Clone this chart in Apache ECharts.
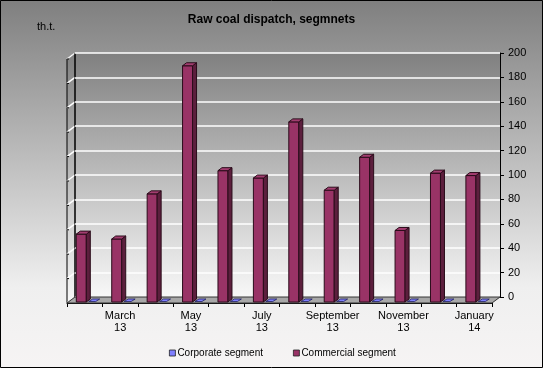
<!DOCTYPE html>
<html><head><meta charset="utf-8">
<script src="https://cdn.jsdelivr.net/npm/echarts@6/dist/echarts.min.js"></script>
<style>html,body{margin:0;padding:0;}#c{width:543px;height:368px;}</style>
</head><body><div id="c"></div>
<script>
const categories = ['February 13','March 13','April 13','May 13','June 13','July 13','August 13','September 13','October 13','November 13','December 13','January 14'];
const corporate = [0,0,0,0,0,0,0,0,0,0,0,0];
const commercial = [54,50,87,192,106,100,146,90,117,57,104,102];
const yTicks = [0,20,40,60,80,100,120,140,160,180,200];

const FONT = 'Liberation Sans, Arial, sans-serif';
const DX = -8, DY = 6;
const chart = echarts.init(document.getElementById('c'));

function barItem(params, api) {
  const idx = api.value(0), v = api.value(1);
  const top = api.coord([idx, v]);
  const base = api.coord([idx, 0]);
  const yb = base[1] - 1, yt = top[1] - 3;
  const x0 = top[0] - 8.4, x1 = top[0] + 1.6, sx = 4, sy = 3;
  const edge = '#2a0c1a';
  return {type:'group', children:[
    {type:'rect', shape:{x:x0, y:yt, width:x1-x0, height:yb-yt}, style:{fill:'#993366', stroke:edge, lineWidth:1}},
    {type:'polygon', shape:{points:[[x1,yt],[x1+sx,yt-sy],[x1+sx,yb-sy],[x1,yb]]}, style:{fill:'#5c1f3d', stroke:edge, lineWidth:1}},
    {type:'polygon', shape:{points:[[x0,yt],[x1,yt],[x1+sx,yt-sy],[x0+sx,yt-sy]]}, style:{fill:'#a33d70', stroke:edge, lineWidth:1}}
  ]};
}
function flatItem(params, api) {
  const idx = api.value(0);
  const base = api.coord([idx, 0]);
  const y0 = base[1] - 1.5;
  const x = base[0];
  return {type:'polygon', shape:{points:[[x+4,y0],[x+11,y0],[x+15,y0-2.5],[x+8,y0-2.5]]},
    style:{fill:'#8080ff', stroke:'#202060', lineWidth:0.8}};
}

const option = {
  animation: false,
  backgroundColor: {type:'linear', x:0, y:0, x2:0, y2:1, colorStops:[
    {offset:0, color:'#7f7f7f'}, {offset:0.78, color:'#efefef'}, {offset:1, color:'#f6f4f4'}]},
  title: {text:'Raw coal dispatch, segmnets', left:'center', top:9,
    textStyle:{fontFamily:FONT, fontSize:12, fontWeight:'bold', color:'#000'}},
  legend: {left:164, top:343, itemWidth:6, itemHeight:6, itemGap:30, icon:'rect',
    textStyle:{fontFamily:FONT, fontSize:10, color:'#000', padding:[0,0,0,-3]},
    itemStyle:{borderColor:'#222', borderWidth:0.8},
    data:['Corporate segment','Commercial segment']},
  grid: [
    {left:75, right:43, top:53, bottom:71, show:false},
    {left:67, right:51, top:59, bottom:65, show:false}
  ],
  xAxis: [
    {type:'category', gridIndex:0, data:categories, show:false, boundaryGap:true},
    {type:'category', gridIndex:1, data:categories, boundaryGap:true,
      axisLine:{show:true, lineStyle:{color:'#000', width:1}},
      axisTick:{show:true, interval:0, length:4, lineStyle:{color:'#000'}},
      axisLabel:{interval:function(i){return i%2===1;}, margin:7, fontFamily:FONT, fontSize:11, color:'#000', lineHeight:12,
        formatter:function(s){return s.replace(' ','\n');}},
      splitLine:{show:false}}
  ],
  yAxis: [
    {type:'value', gridIndex:0, position:'right', min:0, max:200, interval:20,
      axisLine:{show:true, lineStyle:{color:'#000', width:1}},
      axisTick:{show:true, length:4, lineStyle:{color:'#000'}},
      axisLabel:{margin:8, fontFamily:FONT, fontSize:11, color:'#000'},
      splitLine:{show:true, lineStyle:{color:'#ffffff', width:1.5}}},
    {type:'value', gridIndex:1, min:0, max:200, interval:20, show:false, splitLine:{show:false}}
  ],
  series: [
    {name:'Corporate segment', type:'custom', xAxisIndex:1, yAxisIndex:1, z:3,
      itemStyle:{color:'#8080ff'}, renderItem:flatItem,
      data: corporate.map((v,i)=>[i,v])},
    {name:'Commercial segment', type:'custom', xAxisIndex:1, yAxisIndex:1, z:4,
      itemStyle:{color:'#993366'}, renderItem:barItem,
      data: commercial.map((v,i)=>[i,v])}
  ]
};
chart.setOption(option);

// decorations: back wall, left wall, floor, unit label, border
const L = 75, R = 500;
const yTop = chart.convertToPixel({yAxisIndex:0}, 200);
const yZero = chart.convertToPixel({yAxisIndex:0}, 0);
const wallGrad = {type:'linear', x:0, y:0, x2:0, y2:1, colorStops:[
  {offset:0, color:'#808080'}, {offset:1, color:'#f8f8f8'}]};
const g = [
  {type:'rect', z:-10, silent:true, shape:{x:L, y:yTop, width:R-L, height:yZero-yTop}, style:{fill:wallGrad}},
  {type:'polygon', z:-9, silent:true, shape:{points:[[L,yTop],[L,yZero],[L+DX,yZero+DY],[L+DX,yTop+DY]]},
    style:{fill:wallGrad, stroke:'#000', lineWidth:1}}
];
yTicks.forEach(function(v){
  const y = chart.convertToPixel({yAxisIndex:0}, v);
  g.push({type:'line', z:-8, silent:true, shape:{x1:L+DX, y1:y+DY, x2:L, y2:y}, style:{stroke:'#ffffff', lineWidth:1.5}});
  g.push({type:'line', z:-8, silent:true, shape:{x1:L+DX, y1:y+DY, x2:L+DX+2, y2:y+DY}, style:{stroke:'#000', lineWidth:1}});
});
g.push({type:'line', z:-7, silent:true, shape:{x1:L, y1:yTop, x2:L, y2:yZero}, style:{stroke:'#000', lineWidth:1}});
g.push({type:'polygon', z:1, silent:true, shape:{points:[[L,yZero],[R,yZero],[R+DX,yZero+DY],[L+DX,yZero+DY]]},
  style:{fill:'#a8a8a8', stroke:'#333', lineWidth:1}});
g.push({type:'text', z:5, silent:true, left:37, top:21, style:{text:'th.t.', font:'11px ' + FONT, fill:'#000'}});
g.push({type:'rect', z:20, silent:true, shape:{x:0.5, y:0.5, width:542, height:367}, style:{fill:'none', stroke:'#000', lineWidth:1}});
chart.setOption({graphic:{elements:g}});
</script>
</body></html>
